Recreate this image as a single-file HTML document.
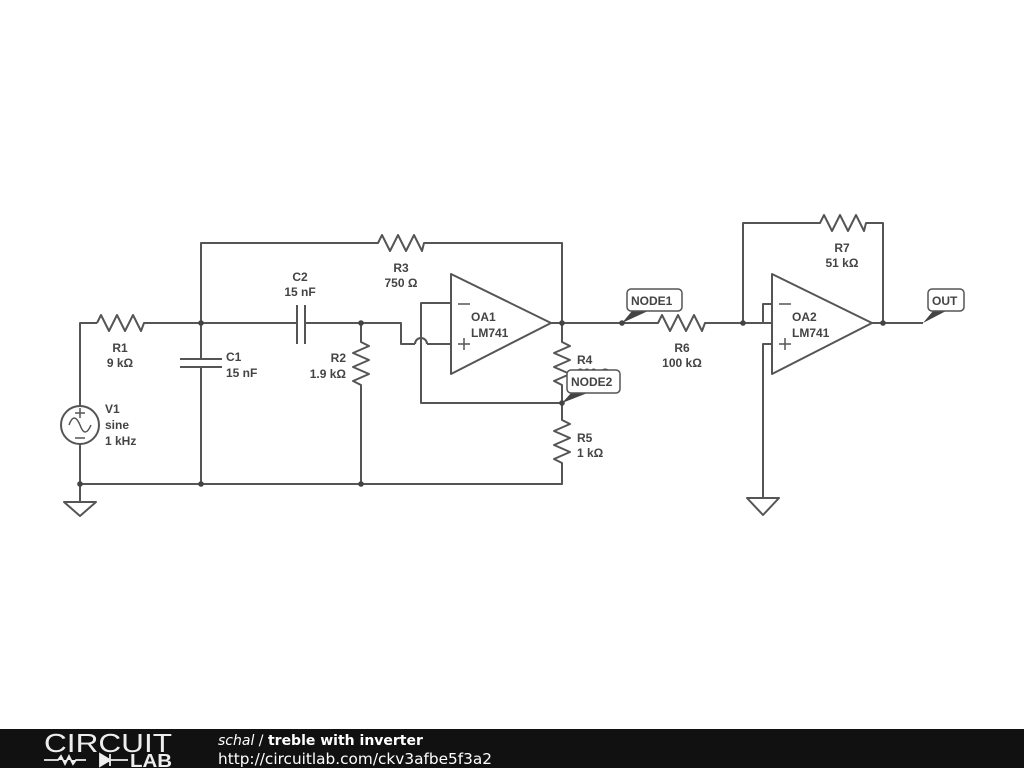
<!DOCTYPE html>
<html><head><meta charset="utf-8"><style>
body{margin:0;background:#fff;width:1024px;height:768px;overflow:hidden}
svg{display:block}
text{font-family:"Liberation Sans",sans-serif;font-size:12px;font-weight:bold;fill:#444}
</style></head><body>
<svg width="1024" height="768" viewBox="0 0 1024 768">
<g stroke="#555" stroke-width="2" fill="none" stroke-linejoin="round">
<polyline points="97,323 80,323 80,406"/>
<polyline points="80,444 80,502"/>
<circle cx="80" cy="425" r="19"/>
<path d="M69,425 q5,-14 11,0 q5,14 11,0" stroke-width="1.5"/>
<path d="M75,413 h10 M80,408 v10 M75,438 h10" stroke-width="1.5"/>
<polygon points="64,502 96,502 80,516"/>
<polyline points="97,323 101,315 109,331 117,315 125,331 133,315 141,331 144,323 201,323"/>
<polyline points="201,323 297,323"/>
<path d="M297,305 v39 M305,305 v39"/>
<polyline points="305,323 401,323 401,344 415,344"/>
<path d="M415,344 a6,6 0 0 1 12,0"/>
<polyline points="427,344 451,344"/>
<polyline points="201,323 201,243 378,243 382,235 390,251 398,235 406,251 414,235 422,251 424,243 562,243 562,323"/>
<polyline points="201,323 201,359"/>
<path d="M180,359 h42 M180,367 h42"/>
<polyline points="201,367 201,484"/>
<polyline points="361,323 361,342 369,346 353,353 369,360 353,367 369,374 353,381 361,385 361,484"/>
<polygon points="451,274 451,374 551,323"/>
<path d="M458,304 h12 M458,344 h12 M464,338 v12" stroke-width="1.5"/>
<polyline points="451,303 421,303 421,403 562,403"/>
<polyline points="551,323 622,323"/>
<polyline points="562,323 562,342 570,346 554,353 570,360 554,367 570,374 554,381 562,385 562,420 570,424 554,431 570,438 554,445 570,452 554,459 562,463 562,484 80,484"/>
<polyline points="622,323 658,323 662,315 670,331 678,315 686,331 694,315 702,331 705,323 772,323"/>
<polyline points="743,323 743,223 820,223 824,215 832,231 840,215 848,231 856,215 864,231 866,223 883,223 883,323"/>
<polyline points="743,323 763,323 763,304 772,304"/>
<polyline points="772,344 763,344 763,498"/>
<polygon points="747,498 779,498 763,515"/>
<polygon points="772,274 772,374 872,323"/>
<path d="M779,304 h12 M779,344 h12 M785,338 v12" stroke-width="1.5"/>
<polyline points="872,323 923,323"/>
</g>
<g fill="#444">
<circle cx="201" cy="323" r="2.8"/><circle cx="361" cy="323" r="2.8"/><circle cx="562" cy="323" r="2.8"/>
<circle cx="80" cy="484" r="2.8"/><circle cx="201" cy="484" r="2.8"/><circle cx="361" cy="484" r="2.8"/>
<circle cx="562" cy="403" r="2.8"/><circle cx="622" cy="323" r="2.8"/><circle cx="743" cy="323" r="2.8"/><circle cx="883" cy="323" r="2.8"/>
<polygon points="622,323 632,311 648,311"/>
<polygon points="923,323 933,311 946,311"/>
<polygon points="562,403 572,392 590,392"/>
</g>
<text x="577" y="364">R4</text><text x="577" y="377">300 Ω</text>
<g fill="#fff" stroke="#555" stroke-width="1.5">
<rect x="627" y="289" width="55" height="22" rx="4"/>
<rect x="928" y="289" width="36" height="22" rx="4"/>
<rect x="567" y="370" width="53" height="23" rx="4"/>
</g>
<text x="631" y="305">NODE1</text>
<text x="932" y="305">OUT</text>
<text x="571" y="386">NODE2</text>
<text x="120" y="352" text-anchor="middle">R1</text><text x="120" y="367" text-anchor="middle">9 kΩ</text>
<text x="226" y="361">C1</text><text x="226" y="377">15 nF</text>
<text x="300" y="281" text-anchor="middle">C2</text><text x="300" y="296" text-anchor="middle">15 nF</text>
<text x="346" y="362" text-anchor="end">R2</text><text x="346" y="378" text-anchor="end">1.9 kΩ</text>
<text x="401" y="272" text-anchor="middle">R3</text><text x="401" y="287" text-anchor="middle">750 Ω</text>
<text x="471" y="321">OA1</text><text x="471" y="337">LM741</text>
<text x="577" y="442">R5</text><text x="577" y="457">1 kΩ</text>
<text x="105" y="413">V1</text><text x="105" y="429">sine</text><text x="105" y="445">1 kHz</text>
<text x="682" y="352" text-anchor="middle">R6</text><text x="682" y="367" text-anchor="middle">100 kΩ</text>
<text x="842" y="252" text-anchor="middle">R7</text><text x="842" y="267" text-anchor="middle">51 kΩ</text>
<text x="792" y="321">OA2</text><text x="792" y="337">LM741</text>
<rect x="0" y="729" width="1024" height="39" fill="#111"/>
<text x="44" y="752" textLength="128" lengthAdjust="spacingAndGlyphs" style="font-size:26px;font-weight:normal;fill:#eee">CIRCUIT</text>
<path d="M44,760 h14 l3,-4 l4,8 l4,-8 l4,8 l3,-4 h10 M100,754 v12 M110,754 v12 M100,754 l10,6 l-10,6 z M110,760 h18" stroke="#eee" stroke-width="1.8" fill="#eee"/>
<text x="130" y="767" textLength="42" lengthAdjust="spacingAndGlyphs" style="font-size:18px;fill:#eee;font-weight:bold">LAB</text>
<text x="218" y="745" style="font-family:'DejaVu Sans',sans-serif;font-size:14px;fill:#fff;font-weight:normal"><tspan font-style="italic">schal</tspan> / <tspan font-weight="bold">treble with inverter</tspan></text>
<text x="218" y="764" textLength="274" lengthAdjust="spacingAndGlyphs" style="font-family:'DejaVu Sans',sans-serif;font-size:15px;fill:#fff;font-weight:normal">http://circuitlab.com/ckv3afbe5f3a2</text>
</svg>
</body></html>
